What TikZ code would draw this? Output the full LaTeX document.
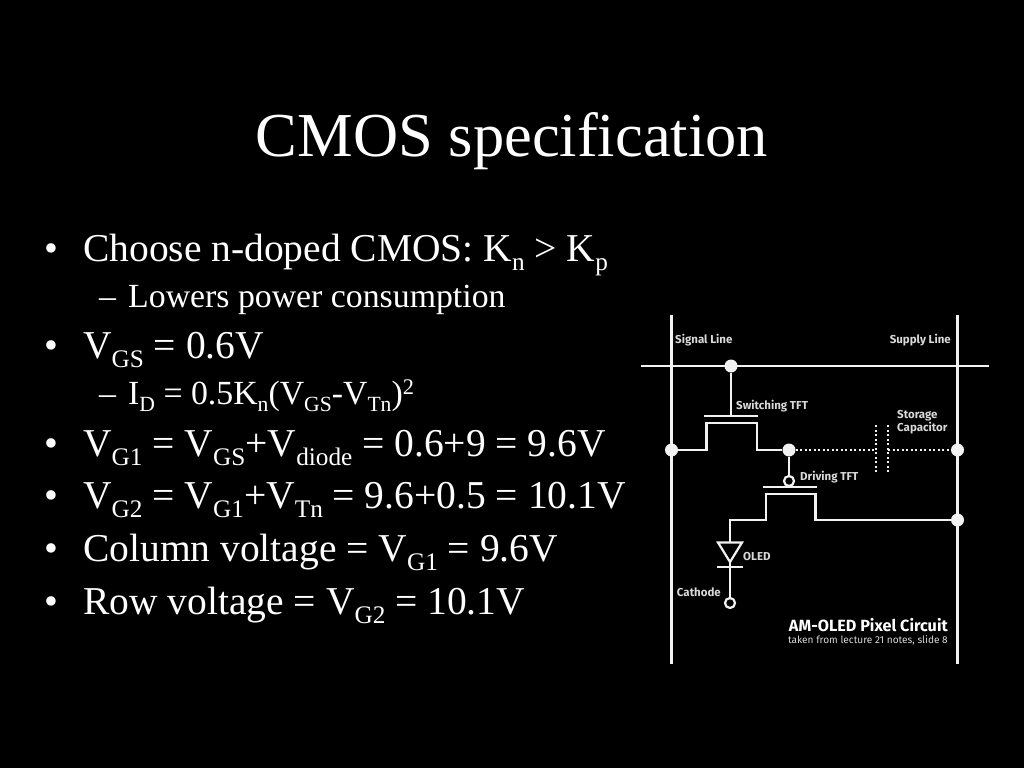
\documentclass[tikz,border=0pt]{standalone}
\usepackage{fontspec}
\setmainfont{Liberation Serif}
\newfontfamily\circuitfont{Fira Sans}
\newcommand{\lowtxt}[1]{\raisebox{-0.5ex}{\scalebox{0.64}{#1}}}
\newcommand{\hightxt}[1]{\raisebox{0.62ex}{\scalebox{0.66}{#1}}}
\definecolor{wirecol}{rgb}{0.95,0.95,0.95}
\definecolor{lblcol}{rgb}{0.85,0.85,0.85}
\begin{document}
\begin{tikzpicture}[
    x = 1pt, y = -1pt,
    wire/.style = {draw = wirecol, line width = 2.2pt},
    dotwire/.style = {draw = wirecol, line width = 2.8pt, dash pattern = on 2.2pt off 2.3pt},
    junction/.style = {circle, fill = wirecol, inner sep = 0pt, minimum size = 13pt},
    hollow/.style = {circle, draw = wirecol, fill = black, line width = 2.2pt, inner sep = 0pt, minimum size = 10pt},
    title/.style = {text = white, font = \fontsize{62.5}{64}\selectfont, anchor = base},
    bul/.style = {text = white, font = \fontsize{39.5}{40}\selectfont, anchor = base west, inner sep = 0pt},
    subbul/.style = {text = white, font = \fontsize{33.8}{34}\selectfont, anchor = base west, inner sep = 0pt},
    lbl/.style = {text = lblcol, font = \circuitfont\bfseries\fontsize{11.5}{13}\selectfont, inner sep = 0pt, align = left}
    ]
    \fill[black] (0,0) rectangle (1024,768);
    \useasboundingbox (0,0) rectangle (1024,768);

    % slide text
    \node[title] (head) at (512,156) {CMOS specification};
    \foreach \y in {261,358,456,508,561,614}
        \node[bul] (dot\y) at (44,\y) {•};
    \foreach \y in {307,404}
        \node[subbul] (dash\y) at (99,\y) {–};
    \node[bul] (choose) at (83,261) {Choose n-doped CMOS: K\lowtxt{n} > K\lowtxt{p}};
    \node[subbul] (lowers) at (128,307) {Lowers power consumption};
    \node[bul] (vgs) at (83,358) {V\lowtxt{GS} = 0.6V};
    \node[subbul] (idrain) at (128,404) {I\lowtxt{D} = 0.5K\lowtxt{n}(V\lowtxt{GS}-V\lowtxt{Tn})\hightxt{2}};
    \node[bul] (vgone) at (83,456) {V\lowtxt{G1} = V\lowtxt{GS}+V\lowtxt{diode} = 0.6+9 = 9.6V};
    \node[bul] (vgtwo) at (83,508) {V\lowtxt{G2} = V\lowtxt{G1}+V\lowtxt{Tn} = 9.6+0.5 = 10.1V};
    \node[bul] (column) at (83,561) {Column voltage = V\lowtxt{G1} = 9.6V};
    \node[bul] (row) at (83,614) {Row voltage = V\lowtxt{G2} = 10.1V};

    % circuit corners
    \coordinate (sigtop) at (671.5,315);
    \coordinate (sigbot) at (671.5,664);
    \coordinate (suptop) at (957.5,315);
    \coordinate (supbot) at (957.5,664);
    \coordinate (rowl) at (641,366);
    \coordinate (rowr) at (989,366);
    \coordinate (swgate) at (731,416);
    \coordinate (swgatel) at (704,416);
    \coordinate (swgater) at (758,416);
    \coordinate (swa) at (706.5,450);
    \coordinate (swb) at (706.5,423);
    \coordinate (swc) at (757,423);
    \coordinate (swd) at (757,450);
    \coordinate (capla) at (876,425);
    \coordinate (caplb) at (876,473);
    \coordinate (capra) at (888,425);
    \coordinate (caprb) at (888,473);
    \coordinate (capl) at (876,450);
    \coordinate (capr) at (888,450);
    \coordinate (drgatel) at (763,487);
    \coordinate (drgater) at (817,487);
    \coordinate (dra) at (730,520);
    \coordinate (drb) at (766,520);
    \coordinate (drc) at (766,494);
    \coordinate (drd) at (815.5,494);
    \coordinate (dre) at (815.5,520);
    \coordinate (oledtop) at (730,542.5);
    \coordinate (oledl) at (718,542.5);
    \coordinate (oledr) at (742,542.5);
    \coordinate (oledtip) at (730,562);
    \coordinate (oledbarl) at (717,567);
    \coordinate (oledbarr) at (743,567);
    \coordinate (oledbar) at (730,567);

    % junctions
    \node[junction] (jrow) at (731,366) {};
    \node[junction] (jsig) at (671.5,450) {};
    \node[junction] (jmid) at (789,450) {};
    \node[junction] (jcap) at (957.5,450) {};
    \node[junction] (jsup) at (957.5,520) {};
    \node[hollow] (drgate) at (789,481) {};
    \node[hollow] (cathode) at (730,603) {};

    % wires
    \draw[wire] (sigtop) -- (sigbot);
    \draw[wire] (suptop) -- (supbot);
    \draw[wire] (rowl) -- (rowr);
    \draw[wire] (jrow) -- (swgate);
    \draw[wire] (swgatel) -- (swgater);
    \draw[wire] (jsig) -- (swa) -- (swb) -- (swc) -- (swd) -- (jmid);
    \draw[wire] (jmid) -- (drgate);
    \draw[wire] (drgatel) -- (drgater);
    \draw[wire] (oledtop) -- (dra) -- (drb) -- (drc) -- (drd) -- (dre) -- (jsup);
    \draw[wire] (oledl) -- (oledr) -- (oledtip) -- cycle;
    \draw[wire] (oledbarl) -- (oledbarr);
    \draw[wire] (oledtip) -- (oledbar) -- (cathode);
    \draw[dotwire] (jmid) -- (capl);
    \draw[dotwire] (capr) -- (jcap);
    \draw[dotwire] (capla) -- (caplb);
    \draw[dotwire] (capra) -- (caprb);

    % circuit labels
    \node[lbl, anchor = west] (signal) at (675,340) {Signal Line};
    \node[lbl, anchor = east] (supply) at (951,340) {Supply Line};
    \node[lbl, anchor = west] (switching) at (736,406) {Switching TFT};
    \node[lbl, anchor = west] (storage) at (897,422.5) {Storage\\Capacitor};
    \node[lbl, anchor = west] (driving) at (800,477) {Driving TFT};
    \node[lbl, anchor = west] (oled) at (743,557) {OLED};
    \node[lbl, anchor = east] (cath) at (721,592) {Cathode};
    \node[lbl, anchor = east, text = white, font = \circuitfont\bfseries\fontsize{16.2}{18}\selectfont] (amoled) at (948,625) {AM-OLED Pixel Circuit};
    \node[lbl, anchor = east, font = \circuitfont\fontsize{10.1}{12}\selectfont] (taken) at (948,640) {taken from lecture 21 notes, slide 8};
\end{tikzpicture}
\end{document}
